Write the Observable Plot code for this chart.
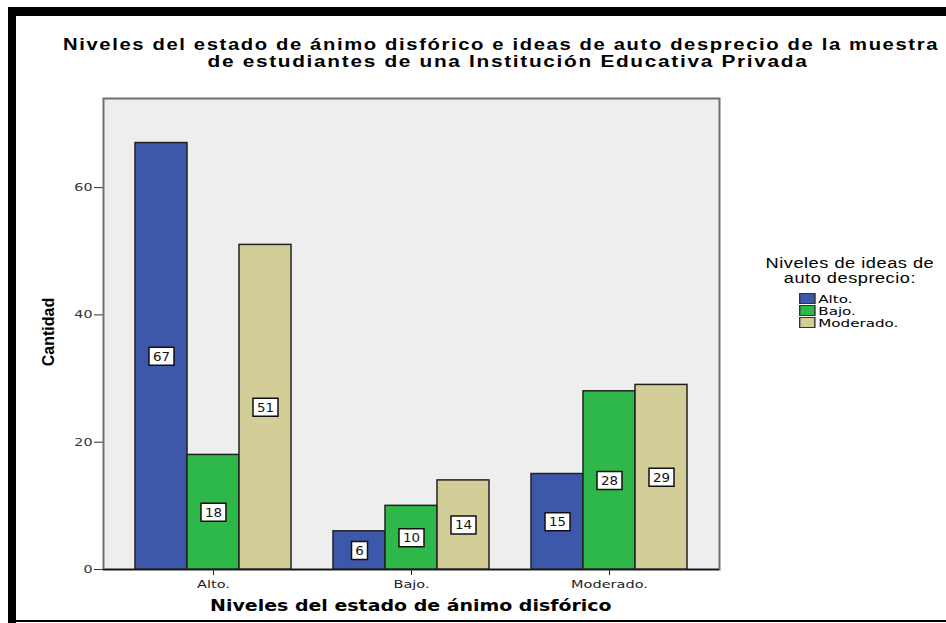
<!DOCTYPE html>
<html>
<head>
<meta charset="utf-8">
<script src="https://cdn.jsdelivr.net/npm/d3@7"></script>
<script src="https://cdn.jsdelivr.net/npm/@observablehq/plot@0.6"></script>
<style>
  html, body { margin: 0; padding: 0; background: #fff; }
  #wrap { position: relative; width: 946px; height: 623px; overflow: hidden; background: #fff; }
  .abs { position: absolute; white-space: nowrap; }
  .ttl { font-family: "Liberation Sans", Arial, sans-serif; font-weight: bold; font-size: 16px; letter-spacing: 1.3px; line-height: 17px; color: #000; }
  #ylabel { left: 49px; top: 332px; transform: translate(-50%, -50%) rotate(-90deg); font-family: "Liberation Sans Narrow", "Arial Narrow", "Liberation Sans", sans-serif; font-weight: bold; font-size: 16px; }
  #xlabel { font-family: "DejaVu Sans", Verdana, sans-serif; font-weight: bold; font-size: 15px; line-height: 18px; }
  #legtitle { text-align: center; font-family: "Liberation Sans", Arial, sans-serif; font-size: 14px; letter-spacing: 0.4px; line-height: 15px; color: #000; }
  #legitems { font-family: "DejaVu Sans", Verdana, sans-serif; font-size: 11px; line-height: 11px; color: #000; }
  #legitems .sw { display: inline-block; box-sizing: border-box; width: 12px; height: 11px; border: 1.3px solid #333; vertical-align: -1px; margin-right: 2px; }
  svg.plot { position: absolute; left: 0; top: 0; }
</style>
</head>
<body>
<div id="wrap">
  <div class="abs" style="left:8px;top:7px;width:938px;height:9px;background:#000"></div>
  <div class="abs" style="left:8px;top:7px;width:8px;height:616px;background:#000"></div>
  <div class="abs" style="left:8px;top:620px;width:938px;height:2px;background:#000"></div>
  <div id="t1" class="abs ttl" style="left:63px;top:36px">Niveles del estado de ánimo disfórico e ideas de auto desprecio de la muestra</div>
  <div id="t2" class="abs ttl" style="top:53px">de estudiantes de una Institución Educativa Privada</div>
  <div id="ylabel" class="abs">Cantidad</div>
  <div id="xlabel" class="abs" style="top:597px">Niveles del estado de ánimo disfórico</div>
  <div id="legtitle" class="abs" style="top:256px"></div>
  <div id="legitems" class="abs" style="left:799px;top:293px"></div>
</div>
<script>
// ---- Data ----
const grupos = ["Alto.", "Bajo.", "Moderado."];          // Niveles del estado de ánimo disfórico
const series = ["Alto.", "Bajo.", "Moderado."];          // Niveles de ideas de auto desprecio
const valoresAlto = [67, 6, 15];
const valoresBajo = [18, 10, 28];
const valoresModerado = [51, 14, 29];
const yTicks = [0, 20, 40, 60];
const colores = ["#3d57aa", "#2fb84a", "#d3cd98"];
const legendTitle = ["Niveles de ideas de", "auto desprecio:"];

const porSerie = [valoresAlto, valoresBajo, valoresModerado];
const data = [];
grupos.forEach((g, gi) => series.forEach((s, si) => data.push({grupo: g, serie: s, valor: porSerie[si][gi]})));

const W = 946, H = 623;
const margins = {marginLeft: 103, marginRight: 227, marginTop: 98, marginBottom: 54};
const yDomain = [0, 74];

// Box symbols for value labels
const boxNarrow = {draw(ctx) { ctx.rect(-8, -9, 16, 18); }};
const boxWide = {draw(ctx) { ctx.rect(-12.5, -9, 25, 18); }};

// Background: frame + y axis
const bg = Plot.plot({
  width: W, height: H, ...margins,
  style: {background: "transparent", fontFamily: "DejaVu Sans, Verdana, sans-serif", fontSize: "11px", color: "#333"},
  x: {axis: null, domain: [0, 1]},
  y: {domain: yDomain, ticks: yTicks, tickSize: 9, tickPadding: 2, label: null, tickFormat: d => String(d)},
  marks: [
    Plot.frame({fill: "#eeeeee", stroke: "#707070", strokeWidth: 2}),
    Plot.ruleY([0], {stroke: "#111", strokeWidth: 1.5})
  ]
});
bg.classList.add("plot");

// Foreground: grouped bars
const fg = Plot.plot({
  width: W, height: H, ...margins,
  style: {background: "transparent", fontFamily: "DejaVu Sans, Verdana, sans-serif", fontSize: "11px", color: "#222"},
  fx: {domain: grupos, axis: "bottom", label: null, paddingInner: 0.214, paddingOuter: 0.158, tickSize: 6, tickPadding: 5},
  x: {domain: series, axis: null, padding: 0},
  y: {domain: yDomain, axis: null},
  color: {domain: series, range: colores},
  marks: [
    Plot.barY(data, {fx: "grupo", x: "serie", y: "valor", fill: "serie", stroke: "#222", strokeWidth: 1.5}),
    Plot.dot(data, {fx: "grupo", x: "serie", y: d => d.valor / 2,
      symbol: d => String(d.valor).length > 1 ? boxWide : boxNarrow,
      fill: "#fff", stroke: "#111", strokeWidth: 1.5, r: 5}),
    Plot.text(data, {fx: "grupo", x: "serie", y: d => d.valor / 2, text: d => String(d.valor),
      fill: "#111", fontSize: 12, dy: 0.5})
  ]
});
fg.classList.add("plot");

const wrap = document.getElementById("wrap");
wrap.insertBefore(bg, document.getElementById("t1"));
wrap.insertBefore(fg, document.getElementById("t1"));

// horizontal stretch of svg texts around their anchor (the reference is widened)
function stretch(root, selector, s) {
  root.querySelectorAll(selector).forEach(t => {
    const b = t.getBBox();
    const anchor = getComputedStyle(t).textAnchor;
    const ax = anchor === "end" ? b.x + b.width : anchor === "start" ? b.x : b.x + b.width / 2;
    const tr = t.getAttribute("transform") || "";
    t.setAttribute("transform", `${tr} translate(${ax},0) scale(${s},1) translate(${-ax},0)`);
  });
}
stretch(fg, "g[aria-label^='fx-axis'] text", 1.32);
stretch(bg, "g[aria-label^='y-axis'] text", 1.3);
stretch(fg, "g[aria-label='text'] text", 1.12);

// Legend
document.getElementById("legtitle").innerHTML = legendTitle.join("<br>");
document.getElementById("legitems").innerHTML =
  series.map((s, i) => `<div><span class="sw" style="background:${colores[i]}"></span>${s}</div>`).join("");

// fit HTML texts to the widths they have in the reference
function fit(el, target, centerX) {
  const w = el.offsetWidth;
  const s = target / w;
  if (centerX != null) {
    el.style.left = (centerX - w / 2) + "px";
    el.style.transformOrigin = "50% 50%";
  } else {
    el.style.transformOrigin = "0 0";
  }
  el.style.transform = `scaleX(${s})`;
}
fit(document.getElementById("t1"), 876);
fit(document.getElementById("t2"), 601, 508);
fit(document.getElementById("xlabel"), 402, 411);
fit(document.getElementById("legtitle"), 169, 850);
fit(document.getElementById("legitems"), 99);
</script>
</body>
</html>
